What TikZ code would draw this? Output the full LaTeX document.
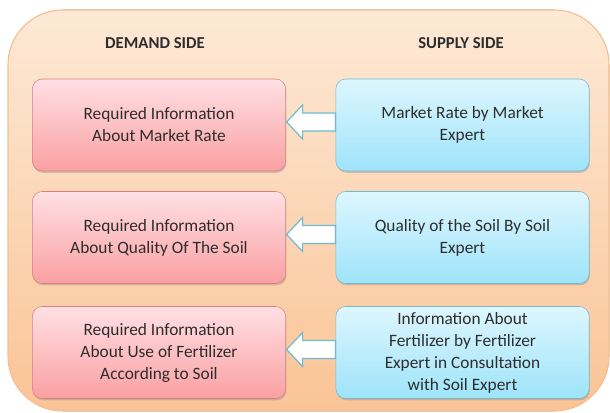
\documentclass[tikz,border=0pt]{standalone}
\usepackage{fontspec}
\setmainfont{Carlito}
\usepackage{tikz}
\usetikzlibrary{calc,shadows}
\definecolor{panetop}{RGB}{253,233,214}
\definecolor{panebot}{RGB}{250,196,150}
\definecolor{paneline}{RGB}{244,190,145}
\definecolor{demtop}{RGB}{255,224,228}
\definecolor{dembot}{RGB}{250,160,162}
\definecolor{demline}{RGB}{214,128,130}
\definecolor{suptop}{RGB}{222,246,255}
\definecolor{supbot}{RGB}{158,228,250}
\definecolor{supline}{RGB}{112,186,208}
\definecolor{inktext}{RGB}{45,45,45}
\tikzset{
  demandbox/.style={draw=demline, top color=demtop, bottom color=dembot,
    rounded corners=7.5pt, minimum width=190pt, minimum height=69pt,
    align=center, text=inktext, font=\fontsize{13}{16.5}\selectfont,
    drop shadow={shadow xshift=0.6pt, shadow yshift=-1.4pt, opacity=0.35}},
  supplybox/.style={demandbox, draw=supline, top color=suptop, bottom color=supbot},
  sidehead/.style={text=inktext, font=\bfseries\fontsize{12.5}{14}\selectfont},
  fatarrow/.style={draw=supline, line width=0.9pt, fill=white, line join=miter},
}
\def\pane{(8,10) rectangle (609,411)}

\begin{document}
\begin{tikzpicture}[x=0.75pt,y=-0.75pt]
\useasboundingbox (0,0) rectangle (610,413);
\fill[top color=panetop, bottom color=panebot, rounded corners=41pt] \pane;
\draw[paneline, line width=0.8pt, rounded corners=41pt] \pane;

\node[sidehead] (dhead) at (155,43) {DEMAND SIDE};
\node[sidehead] (shead) at (461,43) {SUPPLY SIDE};

\node[demandbox] (d1) at (159,125) {Required Information\\About Market Rate};
\node[demandbox] (d2) at (159,237.5) {Required Information\\About Quality Of The Soil};
\node[demandbox] (d3) at (159,352.5) {Required Information\\About Use of Fertilizer\\According to Soil};

\node[supplybox] (s1) at (462.5,125) {Market Rate by Market\\Expert};
\node[supplybox] (s2) at (462.5,237.5) {Quality of the Soil By Soil\\Expert};
\node[supplybox] (s3) at (462.5,352.5) {Information About\\Fertilizer by Fertilizer\\Expert in Consultation\\with Soil Expert};

% block arrows from supply to demand
\foreach \i in {1,2,3}
  \draw[fatarrow] let \p1=(d\i.east), \p2=(s\i.west) in
    (\x1+0.5pt,\y1+2.25pt) -- (\x1+12.5pt,\y1+15pt) -- (\x1+12.5pt,\y1+9pt)
    -- (\x2,\y1+9pt) -- (\x2,\y1-4.5pt) -- (\x1+12.5pt,\y1-4.5pt)
    -- (\x1+12.5pt,\y1-10.5pt) -- cycle;
\end{tikzpicture}
\end{document}
